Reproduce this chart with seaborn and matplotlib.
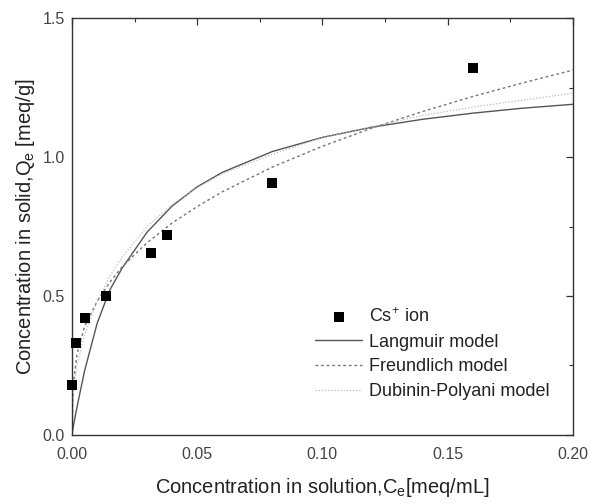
import numpy as np
import pandas as pd
import matplotlib
matplotlib.use("Agg")
import matplotlib.pyplot as plt
import seaborn as sns
from matplotlib.ticker import MultipleLocator, FormatStrFormatter

# Experimental data (Cs+ ion)
ce_data = [0.0002, 0.0016, 0.005, 0.0136, 0.0315, 0.038, 0.080, 0.160]
qe_data = [0.18, 0.33, 0.42, 0.50, 0.655, 0.72, 0.905, 1.32]

# Model curves
ce_curve = [0.0, 0.0005, 0.002, 0.005, 0.01, 0.015, 0.02, 0.03, 0.04, 0.05,
            0.06, 0.08, 0.10, 0.12, 0.14, 0.16, 0.18, 0.20]
q_langmuir = [0.0, 0.03, 0.10, 0.23, 0.40, 0.52, 0.60, 0.73, 0.824, 0.893,
              0.945, 1.020, 1.071, 1.108, 1.136, 1.158, 1.176, 1.190]
q_freundlich = [0.0, 0.18, 0.29, 0.39, 0.48, 0.548, 0.605, 0.692, 0.763, 0.822,
                0.875, 0.964, 1.039, 1.105, 1.164, 1.218, 1.267, 1.313]
q_dubinin = [0.0, 0.14, 0.25, 0.36, 0.48, 0.57, 0.64, 0.75, 0.83, 0.89,
             0.94, 1.01, 1.07, 1.11, 1.15, 1.18, 1.205, 1.23]

x_ticks = [0.00, 0.05, 0.10, 0.15, 0.20]
y_ticks = [0.0, 0.5, 1.0, 1.5]

sns.set_style("white")
plt.rcParams['font.family'] = ['Liberation Sans', 'DejaVu Sans']
plt.rcParams['mathtext.fontset'] = 'custom'
plt.rcParams['mathtext.rm'] = 'Liberation Sans'
plt.rcParams['mathtext.it'] = 'Liberation Sans'

fig = plt.figure(figsize=(5.9, 5.04), dpi=100)
ax = fig.add_axes([0.122, 0.137, 0.849, 0.827])

curves = pd.DataFrame({"Ce": ce_curve, "L": q_langmuir, "F": q_freundlich, "D": q_dubinin})
pts = pd.DataFrame({"Ce": ce_data, "Qe": qe_data})

sns.scatterplot(data=pts, x="Ce", y="Qe", ax=ax, marker="s", color="black",
                s=42, edgecolor="black", linewidth=0, label="Cs$^{+}$ ion",
                zorder=5, clip_on=False)
sns.lineplot(data=curves, x="Ce", y="L", ax=ax, color="#555555", lw=1.0,
             linestyle="-", label="Langmuir model")
sns.lineplot(data=curves, x="Ce", y="F", ax=ax, color="#777777", lw=1.0,
             linestyle=(0, (2, 2)), label="Freundlich model")
sns.lineplot(data=curves, x="Ce", y="D", ax=ax, color="#bbbbbb", lw=0.9,
             linestyle=(0, (1, 1.5)), label="Dubinin-Polyani model")

ax.set_xlim(0, 0.20)
ax.set_ylim(0, 1.5)
ax.set_xticks(x_ticks)
ax.set_yticks(y_ticks)
ax.xaxis.set_major_formatter(FormatStrFormatter('%.2f'))
ax.yaxis.set_major_formatter(FormatStrFormatter('%.1f'))
ax.xaxis.set_minor_locator(MultipleLocator(0.025))
ax.yaxis.set_minor_locator(MultipleLocator(0.25))
ax.tick_params(which='both', direction='in', top=True, right=True,
               color='#333333', labelcolor='#444444', labelsize=11.5)
ax.tick_params(which='major', length=5, width=0.9)
ax.tick_params(which='minor', length=3, width=0.8)
ax.tick_params(axis='x', which='major', pad=9)
ax.tick_params(axis='y', which='major', pad=5)
for s in ax.spines.values():
    s.set_color('#333333')
    s.set_linewidth(1.0)

ax.set_xlabel("Concentration in solution,C$_{e}$[meq/mL]", fontsize=14.5, color='#222222', labelpad=10)
ax.set_ylabel("Concentration in solid,Q$_{e}$ [meq/g]", fontsize=14.5, color='#222222', labelpad=4)

leg = ax.legend(loc='lower right', bbox_to_anchor=(0.985, 0.045), frameon=False,
                fontsize=13, handlelength=2.6, handletextpad=0.35, labelspacing=0.42)
for t in leg.get_texts():
    t.set_color('#222222')

fig.savefig("out.png", dpi=100)
